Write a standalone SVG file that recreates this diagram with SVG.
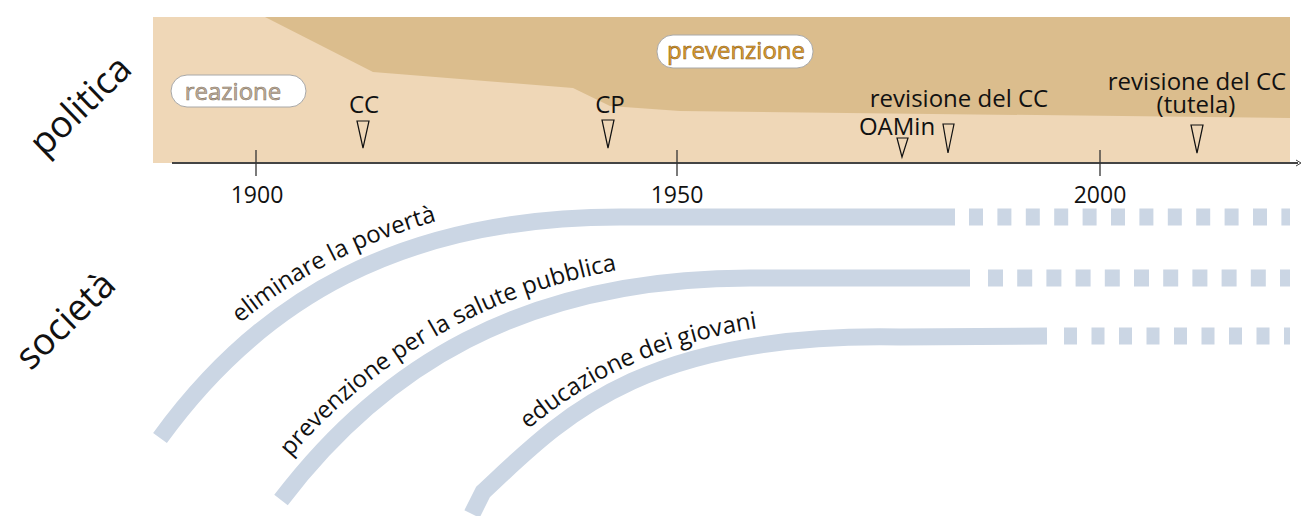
<svg xmlns="http://www.w3.org/2000/svg" width="1303" height="516" viewBox="0 0 1303 516">
<style>
.t{font-family:"Open Sans","Noto Sans","Liberation Sans",sans-serif;fill:#111;}
.lbl{font-size:24px;}
.big{font-size:37px;}
.tri{fill:none;stroke:#111;stroke-width:1.2;stroke-linejoin:miter;}
.band{fill:none;stroke:#CBD6E4;stroke-width:17;stroke-linecap:butt;stroke-linejoin:round;}
.tick{stroke:#333;stroke-width:1.3;}
.pill{fill:#fff;stroke:#a8a8a8;stroke-width:1;}
</style>
<defs>
<path id="tp1" d="M144,426 C244,288 400,197 620,197 L955,197"/>
<path id="tp2" d="M265,488 C364,358 520,258 750,258 L970,258"/>
<path id="tp3" d="M471,481 C548,409 640,314 900,320 L1047,319"/>
</defs>
<g id="background">
<rect x="153" y="17" width="1137" height="146" fill="#EFD7B7"/>
<path d="M265,17 L1290,17 L1290,118 L680,111 L610,106 L573,88 L373,72 Z" fill="#DBBD8D"/>
</g>
<g id="axis">
<line x1="172" y1="163" x2="1298" y2="163" stroke="#444" stroke-width="2"/>
<path d="M1296,160 L1301,163 L1296,166" fill="none" stroke="#444" stroke-width="1"/>
<line class="tick" x1="256" y1="150" x2="256" y2="176"/>
<line class="tick" x1="677" y1="150" x2="677" y2="176"/>
<line class="tick" x1="1100" y1="150" x2="1100" y2="176"/>
<text class="t" x="257" y="203" font-size="23" text-anchor="middle">1900</text>
<text class="t" x="677" y="203" font-size="23" text-anchor="middle">1950</text>
<text class="t" x="1100" y="203" font-size="23" text-anchor="middle">2000</text>
</g>
<g id="politica">
<text class="t big" transform="translate(79,104) rotate(-44)" text-anchor="middle" dominant-baseline="central">politica</text>
</g>
<g id="societa">
<text class="t big" transform="translate(64,319) rotate(-44)" text-anchor="middle" dominant-baseline="central">società</text>
</g>
<g id="reazione">
<rect class="pill" x="171" y="75" width="135" height="32" rx="16"/>
<text class="t lbl" x="233" y="100" text-anchor="middle" style="fill:#C2B29E;stroke:#857564;stroke-width:0.6">reazione</text>
</g>
<g id="prevenzione">
<rect class="pill" x="657" y="35" width="156" height="33" rx="16"/>
<text class="t lbl" x="736" y="59" text-anchor="middle" style="fill:#E0A032;stroke:#8f6218;stroke-width:0.6">prevenzione</text>
</g>
<g id="cc">
<text class="t lbl" x="364" y="113" text-anchor="middle">CC</text>
<path class="tri" d="M357,121 L369,121 L363,148 Z"/>
</g>
<g id="cp">
<text class="t lbl" x="610" y="113" text-anchor="middle">CP</text>
<path class="tri" d="M602,120 L614,120 L608,148 Z"/>
</g>
<g id="oamin">
<text class="t lbl" x="897" y="135" text-anchor="middle">OAMin</text>
<path class="tri" d="M897,138 L908,138 L902,157 Z"/>
</g>
<g id="revisione1">
<text class="t lbl" x="959" y="107" text-anchor="middle">revisione del CC</text>
<path class="tri" d="M943,124 L954,124 L948,153 Z"/>
</g>
<g id="revisione2">
<text class="t lbl" x="1197" y="90" text-anchor="middle">revisione del CC</text>
<text class="t lbl" x="1196" y="113" text-anchor="middle">(tutela)</text>
<path class="tri" d="M1191,125 L1203,125 L1197,153 Z"/>
</g>
<g id="connectors">
<path class="band" d="M160,438 C260,300 400,217 620,217 L955,217"/>
<line class="band" x1="969" y1="217" x2="1290" y2="217" stroke-dasharray="14 14.4"/>
<path class="band" d="M281,500 C380,370 520,278 750,278 L970,278"/>
<line class="band" x1="988" y1="278" x2="1290" y2="278" stroke-dasharray="15 14.2"/>
<path class="band" d="M472,514 L483,492 C560,420 640,332 900,337 L1047,336"/>
<line class="band" x1="1064" y1="336" x2="1290" y2="336" stroke-dasharray="13 14.5"/>
</g>
<g id="labels-curves">
<text class="t lbl"><textPath href="#tp1" startOffset="141">eliminare la povertà</textPath></text>
<text class="t lbl"><textPath href="#tp2" startOffset="40">prevenzione per la salute pubblica</textPath></text>
<text class="t lbl"><textPath href="#tp3" startOffset="77">educazione dei giovani</textPath></text>
</g>
</svg>
